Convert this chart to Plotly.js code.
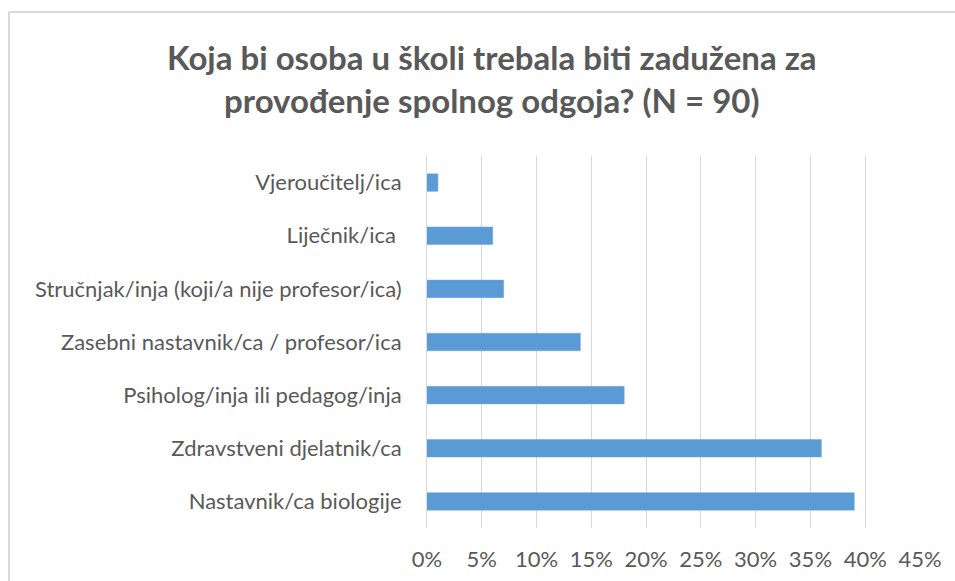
<!DOCTYPE html>
<html>
<head>
<meta charset="utf-8">
<script src="https://cdn.plot.ly/plotly-3.0.1.min.js"></script>
<style>
html,body{margin:0;padding:0;background:#fff;}
#chart{width:955px;height:581px;}
</style>
</head>
<body>
<div id="chart"></div>
<script>
var categories = [
  "Nastavnik/ca biologije",
  "Zdravstveni djelatnik/ca",
  "Psiholog/inja ili pedagog/inja",
  "Zasebni nastavnik/ca / profesor/ica",
  "Stručnjak/inja (koji/a nije profesor/ica)",
  "Liječnik/ica\u00a0",
  "Vjeroučitelj/ica"
];
var values = [0.39, 0.36, 0.18, 0.14, 0.07, 0.06, 0.01];
var tickValues = [0, 0.05, 0.10, 0.15, 0.20, 0.25, 0.30, 0.35, 0.40, 0.45];
var tickLabels = ["0%", "5%", "10%", "15%", "20%", "25%", "30%", "35%", "40%", "45%"];
var titleText = "Koja bi osoba u školi trebala biti zadužena za<br>provođenje spolnog odgoja? (N = 90)";

var FONT = "Lato, 'Liberation Sans', sans-serif";
var trace = {
  type: "bar",
  orientation: "h",
  x: values,
  y: categories,
  marker: {color: "#5b9bd5", line: {color: "#6fa8dc", width: 0.5}},
  hoverinfo: "x+y"
};
var layout = {
  width: 955, height: 581,
  paper_bgcolor: "#fff", plot_bgcolor: "#fff",
  margin: {l: 427, r: 35, t: 156, b: 53},
  bargap: 0.67,
  showlegend: false,
  title: {
    text: titleText,
    font: {family: FONT, size: 33, color: "#595959", weight: "bold"},
    x: 0.515, xanchor: "center",
    y: 1 - 70/581, yanchor: "top",
    yref: "container"
  },
  xaxis: {
    range: [0, 0.45],
    tickvals: tickValues,
    ticktext: tickLabels,
    showgrid: true, gridcolor: "#d9d9d9", gridwidth: 1,
    zeroline: false, showline: false,
    ticks: "", ticklabelstandoff: 16,
    tickfont: {family: FONT, size: 22, color: "#595959"},
    fixedrange: true
  },
  yaxis: {
    showgrid: false, zeroline: false,
    showline: true, linecolor: "#d9d9d9", linewidth: 1,
    ticks: "", ticklabelstandoff: 20,
    tickfont: {family: FONT, size: 22, color: "#595959"},
    fixedrange: true
  },
  shapes: [
    {type: "line", xref: "paper", yref: "paper",
     x0: -418/493, x1: -418/493, y0: 1 + 144/372, y1: -60/372,
     line: {color: "#d9d9d9", width: 2}},
    {type: "line", xref: "paper", yref: "paper",
     x0: -418/493, x1: 1 + 40/493, y0: 1 + 144/372, y1: 1 + 144/372,
     line: {color: "#d9d9d9", width: 2}}
  ]
};
Plotly.newPlot("chart", [trace], layout, {displayModeBar: false, responsive: false});
</script>
</body>
</html>
